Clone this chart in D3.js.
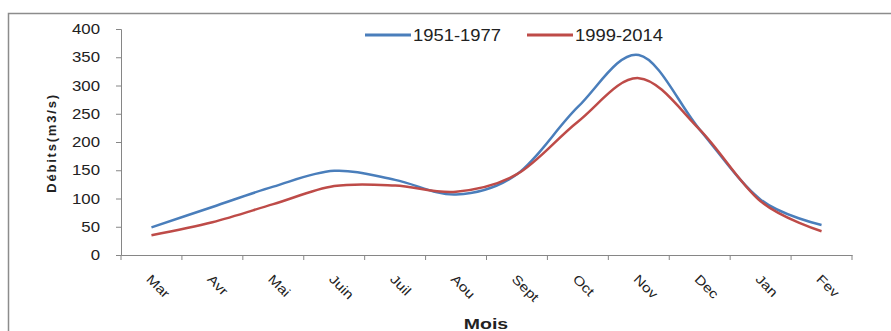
<!DOCTYPE html>
<html><head><meta charset="utf-8">
<script src="https://cdn.jsdelivr.net/npm/d3@7"></script>
<style>body{margin:0;background:#fff}svg{display:block}text{font-family:"Liberation Sans",Arial,sans-serif}</style>
</head><body><svg id="c" width="891" height="331"></svg>
<script>
const months = ["Mar","Avr","Mai","Juin","Juil","Aou","Sept","Oct","Nov","Dec","Jan","Fev"];
const seriesNames = ["1951-1977","1999-2014"];
const values1951 = [49, 85, 121, 149, 133, 107, 143, 262, 354, 222, 98, 53];
const values1999 = [35, 58, 90, 122, 123, 112, 143, 236, 313, 222, 95, 42];
const yTicks = [0,50,100,150,200,250,300,350,400];
const colors = ["#4A7EBB","#BE4B48"];

const svg = d3.select("#c");
const m = {l:121, r:852, t:29, b:255};
svg.append("rect").attr("x",8.5).attr("y",13.5).attr("width",900).attr("height",340)
  .attr("fill","none").attr("stroke","#8c8c8c").attr("stroke-width",1.5);

const x = d3.scaleBand().domain(months).range([m.l,m.r]).padding(0);
const y = d3.scaleLinear().domain([0,400]).range([m.b,m.t]);

const yAxis = svg.append("g").attr("transform",`translate(${m.l},0)`)
  .call(d3.axisLeft(y).tickValues(yTicks).tickSize(5).tickFormat(""));
yAxis.select(".domain").attr("stroke","#868686");
yAxis.selectAll(".tick line").attr("stroke","#868686");
svg.append("g").selectAll("text").data(yTicks).join("text")
  .attr("transform",d=>`translate(${m.l-21},${y(d)+5}) scale(1.2,1)`)
  .attr("text-anchor","end").attr("font-size",14).attr("fill","#222").text(d=>d);

const xAxis = svg.append("g").attr("transform",`translate(0,${m.b})`)
  .call(d3.axisBottom(x).tickSize(0).tickFormat(""));
xAxis.select(".domain").attr("stroke","#868686");
xAxis.selectAll(".tick").remove();
const bounds = months.map(d=>x(d)).concat([m.r]);
svg.append("g").selectAll("line").data(bounds).join("line")
  .attr("x1",d=>d).attr("x2",d=>d).attr("y1",m.b).attr("y2",m.b+5).attr("stroke","#868686");
svg.append("g").selectAll("text").data(months).join("text")
  .attr("transform",d=>`translate(${x(d)+x.bandwidth()/2-6},${m.b+25}) rotate(45) scale(1.2,1)`)
  .attr("font-size",13).attr("fill","#222").text(d=>d);

const line = d3.line().x((d,i)=>x(months[i])+x.bandwidth()/2).y(d=>y(d)).curve(d3.curveCatmullRom.alpha(0));
[values1951, values1999].forEach((vals,k)=>{
  svg.append("path").datum(vals).attr("d",line).attr("fill","none")
    .attr("stroke",colors[k]).attr("stroke-width",2.5);
});

svg.append("text").attr("transform",`translate(56,143) rotate(-90)`).attr("text-anchor","middle")
  .attr("font-size",13).attr("font-weight","bold").attr("letter-spacing",1.8).attr("fill","#222").text("Débits(m3/s)");
svg.append("text").attr("transform","translate(486,329) scale(1.3,1)").attr("text-anchor","middle")
  .attr("font-size",15).attr("font-weight","bold").attr("fill","#222").text("Mois");

const leg = [{x:365},{x:527}];
seriesNames.forEach((n,k)=>{
  const g = svg.append("g");
  g.append("line").attr("x1",leg[k].x).attr("x2",leg[k].x+46).attr("y1",35).attr("y2",35)
    .attr("stroke",colors[k]).attr("stroke-width",3);
  g.append("text").attr("transform",`translate(${leg[k].x+48},41) scale(1.15,1)`)
    .attr("font-size",16).attr("fill","#222").text(n);
});
</script></body></html>
